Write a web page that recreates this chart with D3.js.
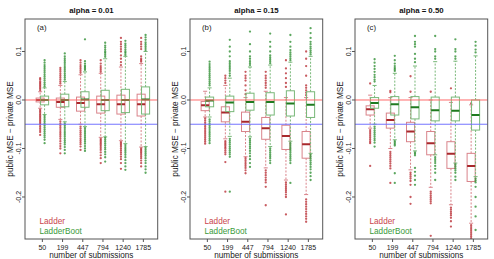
<!DOCTYPE html>
<html>
<head>
<meta charset="utf-8">
<script src="https://cdn.jsdelivr.net/npm/d3@7"></script>
<style>
  body { margin: 0; background: #fff; }
  svg { display: block; font-family: "Liberation Sans", Arial, sans-serif; }
</style>
</head>
<body>
<script>
const sizes = ["50", "199", "447", "794", "1240", "1785"];
const alphas = ["0.01", "0.15", "0.50"];
const tags = ["(a)", "(b)", "(c)"];
const yTicks = [-0.2, -0.1, 0.0, 0.1];

// box stats per number of submissions: [lower whisker, q1, median, q3, upper whisker]
const ladderA = [
  [-0.017, -0.004, 0.000, 0.004, 0.017],
  [-0.040, -0.015, -0.004, 0.004, 0.030],
  [-0.050, -0.023, -0.006, 0.006, 0.052],
  [-0.077, -0.027, -0.009, 0.008, 0.055],
  [-0.084, -0.029, -0.009, 0.010, 0.068],
  [-0.097, -0.033, -0.009, 0.012, 0.075]
];
const bootA = [
  [-0.030, -0.010, 0.000, 0.008, 0.025],
  [-0.045, -0.014, 0.000, 0.012, 0.038],
  [-0.055, -0.015, 0.001, 0.017, 0.058],
  [-0.076, -0.022, 0.000, 0.020, 0.085],
  [-0.090, -0.026, 0.000, 0.022, 0.090],
  [-0.096, -0.029, 0.001, 0.027, 0.100]
];
const ladderAOut = [
  [0.02, 0.023, 0.026, 0.029, 0.032, 0.035, 0.038, 0.042, 0.045, -0.02, -0.023, -0.026, -0.029, -0.032, -0.035, -0.038, -0.041, -0.044, -0.047, -0.05, -0.054, -0.058, -0.062, -0.066, -0.072],
  [0.034, 0.038, 0.042, 0.046, 0.05, 0.054, 0.058, 0.062, 0.066, -0.044, -0.048, -0.052, -0.056, -0.06, -0.064, -0.068, -0.072, -0.076, -0.08, -0.085, -0.09, -0.095, -0.1, -0.11],
  [0.056, 0.06, 0.064, 0.068, 0.072, 0.077, 0.082, -0.055, -0.059, -0.063, -0.067, -0.071, -0.075, -0.079, -0.083, -0.087, -0.091, -0.096, -0.103],
  [0.058, 0.062, 0.066, 0.07, 0.075, 0.082, -0.08, -0.083, -0.086, -0.089, -0.092, -0.095, -0.099, -0.103, -0.108, -0.114, -0.12, -0.13],
  [0.072, 0.078, 0.085, 0.092, 0.1, 0.105, 0.11, 0.115, 0.12, 0.128, -0.087, -0.09, -0.093, -0.096, -0.1, -0.104, -0.108, -0.112, -0.117, -0.122, -0.13, -0.142],
  [0.079, 0.082, 0.085, 0.09, 0.105, 0.11, 0.115, 0.12, 0.128, -0.1, -0.103, -0.106, -0.109, -0.112, -0.116, -0.12, -0.125, -0.13, -0.137]
];
const bootAOut = [
  [0.028, 0.032, 0.036, 0.04, 0.044, 0.048, 0.052, 0.056, 0.06, 0.064, 0.068, 0.072, 0.077, 0.082, -0.033, -0.037, -0.041, -0.045, -0.049, -0.053, -0.057, -0.061, -0.065, -0.069, -0.073, -0.077, -0.082, -0.089],
  [0.042, 0.046, 0.05, 0.054, 0.058, 0.062, 0.066, 0.07, 0.074, 0.078, 0.082, 0.086, 0.09, 0.096, -0.048, -0.052, -0.056, -0.06, -0.064, -0.068, -0.072, -0.076, -0.08, -0.084, -0.088, -0.092, -0.097, -0.103, -0.11],
  [0.062, 0.065, 0.068, 0.071, 0.075, 0.08, 0.125, -0.058, -0.062, -0.066, -0.07, -0.074, -0.078, -0.082, -0.086, -0.09, -0.095, -0.1, -0.105],
  [0.089, 0.093, 0.097, 0.1, 0.104, 0.108, 0.112, 0.118, -0.078, -0.082, -0.086, -0.09, -0.094, -0.098, -0.102, -0.107, -0.112, -0.118, -0.127],
  [0.093, 0.097, 0.1, 0.104, 0.108, 0.112, 0.116, 0.122, -0.093, -0.097, -0.101, -0.105, -0.109, -0.113, -0.118, -0.124, -0.13, -0.137, -0.144],
  [0.103, 0.107, 0.111, 0.115, 0.119, 0.124, 0.129, 0.134, -0.099, -0.103, -0.107, -0.111, -0.115, -0.12, -0.125, -0.13, -0.137, -0.143, -0.15]
];

const ladderB = [
  [-0.035, -0.022, -0.011, -0.003, 0.018],
  [-0.080, -0.045, -0.026, -0.014, 0.030],
  [-0.117, -0.065, -0.045, -0.025, 0.005],
  [-0.140, -0.081, -0.058, -0.036, 0.018],
  [-0.165, -0.102, -0.074, -0.052, 0.005],
  [-0.195, -0.120, -0.091, -0.065, 0.005]
];
const bootB = [
  [-0.035, -0.014, -0.001, 0.006, 0.025],
  [-0.075, -0.024, -0.005, 0.008, 0.045],
  [-0.076, -0.021, -0.004, 0.014, 0.068],
  [-0.096, -0.031, -0.004, 0.015, 0.072],
  [-0.085, -0.033, -0.007, 0.019, 0.078],
  [-0.110, -0.036, -0.010, 0.017, 0.090]
];
const ladderBOut = [
  [-0.038, -0.042, -0.046, -0.05, -0.054, -0.058, -0.062, -0.066, -0.07, -0.074, -0.078, -0.082, -0.086, -0.09],
  [0.035, 0.04, 0.045, 0.05, -0.085, -0.088, -0.091, -0.094, -0.097, -0.1, -0.104, -0.108, -0.112, -0.128, -0.189],
  [0.012, 0.02, 0.03, 0.04, 0.045, 0.05, 0.058, -0.12, -0.124, -0.128, -0.132, -0.136, -0.14, -0.145, -0.151],
  [0.025, 0.03, 0.035, 0.04, 0.045, 0.05, 0.058, -0.145, -0.15, -0.155, -0.16, -0.165, -0.17, -0.179, -0.217],
  [0.027, 0.035, 0.045, 0.055, 0.065, 0.082, -0.17, -0.174, -0.178, -0.182, -0.186, -0.19, -0.195, -0.2, -0.236],
  [0.01, 0.015, 0.02, 0.025, 0.03, 0.05, 0.07, 0.085, 0.1, -0.205, -0.21, -0.215, -0.22, -0.225, -0.23, -0.235, -0.24, -0.245, -0.251]
];
const bootBOut = [
  [0.03, 0.034, 0.038, 0.042, 0.046, 0.05, 0.054, 0.058, 0.062, 0.066, 0.07, 0.074, 0.079, -0.04, -0.044, -0.048, -0.052, -0.056, -0.06, -0.064, -0.068, -0.072, -0.076, -0.08, -0.084, -0.089],
  [0.05, 0.055, 0.06, 0.064, 0.068, 0.072, 0.076, 0.08, 0.09, 0.1, 0.11, 0.124, -0.08, -0.084, -0.088, -0.092, -0.096, -0.1, -0.104, -0.108, -0.112, -0.117, -0.189],
  [0.072, 0.076, 0.08, 0.085, 0.09, 0.1, 0.115, 0.141, -0.08, -0.084, -0.088, -0.092, -0.096, -0.1, -0.105, -0.11, -0.116, -0.122, -0.13, -0.138],
  [0.076, 0.08, 0.084, 0.088, 0.092, 0.1, 0.11, 0.12, 0.137, -0.1, -0.104, -0.108, -0.112, -0.116, -0.12, -0.125, -0.13],
  [0.082, 0.086, 0.09, 0.094, 0.098, 0.103, 0.11, 0.12, 0.134, -0.089, -0.093, -0.097, -0.101, -0.105, -0.109, -0.113, -0.117, -0.121, -0.125, -0.13, -0.171],
  [0.094, 0.098, 0.102, 0.106, 0.11, 0.115, 0.12, 0.128, 0.138, 0.148, -0.113, -0.117, -0.121, -0.125, -0.129, -0.133, -0.138, -0.143, -0.15, -0.157, -0.165]
];

const ladderC = [
  [-0.058, -0.031, -0.019, -0.012, 0.010],
  [-0.100, -0.058, -0.041, -0.027, 0.005],
  [-0.144, -0.086, -0.065, -0.046, 0.005],
  [-0.180, -0.113, -0.089, -0.065, 0.000],
  [-0.216, -0.141, -0.111, -0.086, -0.005],
  [-0.254, -0.168, -0.136, -0.110, -0.010]
];
const bootC = [
  [-0.050, -0.017, -0.006, 0.005, 0.030],
  [-0.082, -0.031, -0.009, 0.007, 0.055],
  [-0.105, -0.039, -0.015, 0.007, 0.070],
  [-0.113, -0.043, -0.021, 0.006, 0.079],
  [-0.130, -0.043, -0.022, 0.006, 0.080],
  [-0.158, -0.062, -0.031, 0.000, 0.091]
];
const ladderCOut = [
  [0.034, -0.062, -0.066, -0.07, -0.074, -0.078, -0.082, -0.086, -0.089, -0.136],
  [0.016, 0.019, -0.107, -0.111, -0.115, -0.119, -0.123, -0.127, -0.131, -0.136, -0.141, -0.171],
  [0.017, 0.049, -0.15, -0.154, -0.158, -0.162, -0.167, -0.175, -0.2, -0.214],
  [0.017, -0.189, -0.193, -0.197, -0.201, -0.205, -0.209, -0.213, -0.28],
  [0.024, -0.222, -0.226, -0.23, -0.234, -0.238, -0.243, -0.25, -0.261],
  [-0.007, -0.258, -0.262, -0.266, -0.27, -0.274, -0.278, -0.282, -0.286]
];
const bootCOut = [
  [0.038, 0.042, 0.047, 0.052, 0.058, 0.064, 0.07, 0.077, 0.084, -0.055, -0.059, -0.063, -0.067, -0.071, -0.075, -0.079, -0.083, -0.088, -0.096],
  [0.06, 0.063, 0.066, 0.07, 0.075, 0.082, 0.091, -0.085, -0.088, -0.091, -0.094, -0.151, -0.171],
  [0.078, 0.085, 0.095, 0.11, 0.115, 0.12, 0.132, -0.108, -0.111, -0.114, -0.14, -0.148, -0.156, -0.165, -0.175],
  [0.085, 0.09, 0.1, 0.105, 0.132, -0.118, -0.122, -0.126, -0.13, -0.136, -0.142, -0.15, -0.165],
  [0.085, 0.09, 0.1, 0.105, 0.125, -0.133, -0.137, -0.141, -0.145, -0.15, -0.158, -0.165],
  [0.098, 0.104, 0.112, 0.12, -0.162, -0.166, -0.17, -0.179, -0.2, -0.22, -0.24, -0.268]
];

const refLines = [{ v: 0, color: "#ff6a6a" }, { v: -0.05, color: "#7474ff" }];

const panels = [
  { ladder: ladderA, boot: bootA, ladderOut: ladderAOut, bootOut: bootAOut },
  { ladder: ladderB, boot: bootB, ladderOut: ladderBOut, bootOut: bootBOut },
  { ladder: ladderC, boot: bootC, ladderOut: ladderCOut, bootOut: bootCOut }
];

const series = [
  { key: "ladder", out: "ladderOut", shift: -0.11, box: "#d9838a", med: "#a8282c", pt: "#b5262c", name: "Ladder", text: "#c9454b" },
  { key: "boot", out: "bootOut", shift: 0.11, box: "#79b879", med: "#1f7a1f", pt: "#25892a", name: "LadderBoot", text: "#3a9a3a" }
];

const W = 494, H = 259;
const plotW = 132.7, plotH = 220, topY = 19;
const svg = d3.select("body").append("svg").attr("width", W).attr("height", H);

const x = d3.scaleLinear().domain([0.14, 6.71]).range([0, plotW]);
const y = d3.scaleLinear().domain([-0.2866, 0.167]).range([plotH, 0]);
const halfW = 0.2;

panels.forEach((p, pi) => {
  const left = 25 + pi * 165;
  const g = svg.append("g").attr("transform", `translate(${left},${topY})`);

  g.append("clipPath").attr("id", "clip" + pi)
    .append("rect").attr("width", plotW).attr("height", plotH);
  const inner = g.append("g").attr("clip-path", `url(#clip${pi})`);

  series.forEach(s => {
    const grp = inner.append("g");
    p[s.key].forEach((st, i) => {
      const c = i + 1 + s.shift;
      const [lo, q1, med, q3, hi] = st;
      // whiskers
      grp.append("line").attr("x1", x(c)).attr("x2", x(c)).attr("y1", y(q3)).attr("y2", y(hi))
        .attr("stroke", s.box).attr("stroke-width", 1).attr("stroke-dasharray", "2,1.5");
      grp.append("line").attr("x1", x(c)).attr("x2", x(c)).attr("y1", y(q1)).attr("y2", y(lo))
        .attr("stroke", s.box).attr("stroke-width", 1).attr("stroke-dasharray", "2,1.5");
      [lo, hi].forEach(v => {
        grp.append("line").attr("x1", x(c - halfW / 2)).attr("x2", x(c + halfW / 2))
          .attr("y1", y(v)).attr("y2", y(v)).attr("stroke", s.box).attr("stroke-width", 1);
      });
      grp.append("rect").attr("x", x(c - halfW)).attr("width", x(c + halfW) - x(c - halfW))
        .attr("y", y(q3)).attr("height", y(q1) - y(q3))
        .attr("fill", "none").attr("stroke", s.box).attr("stroke-width", 1);
      grp.append("line").attr("x1", x(c - halfW)).attr("x2", x(c + halfW))
        .attr("y1", y(med)).attr("y2", y(med)).attr("stroke", s.med).attr("stroke-width", 2);
      // outliers
      grp.selectAll(null).data(p[s.out][i]).join("circle")
        .attr("cx", x(c)).attr("cy", d => y(d)).attr("r", 1.15)
        .attr("fill", s.pt).attr("fill-opacity", 0.75);
    });
  });

  refLines.forEach(r => {
    inner.append("line").attr("x1", 0).attr("x2", plotW).attr("y1", y(r.v)).attr("y2", y(r.v))
      .attr("stroke", r.color).attr("stroke-width", 1);
  });

  // frame
  g.append("rect").attr("width", plotW).attr("height", plotH)
    .attr("fill", "none").attr("stroke", "#555").attr("stroke-width", 1);

  // y axis
  yTicks.forEach(t => {
    g.append("line").attr("x1", -3).attr("x2", 0).attr("y1", y(t)).attr("y2", y(t))
      .attr("stroke", "#555");
    g.append("text").attr("transform", `translate(-4,${y(t)}) rotate(-90)`)
      .attr("text-anchor", "middle").attr("font-size", 7).attr("fill", "#222")
      .text(t.toFixed(1));
  });
  g.append("text").attr("transform", `translate(-12,${plotH / 2}) rotate(-90)`)
    .attr("text-anchor", "middle").attr("font-size", 8.2).attr("fill", "#222")
    .text("public MSE \u2212 private MSE");

  // x axis
  sizes.forEach((s, i) => {
    g.append("line").attr("x1", x(i + 1)).attr("x2", x(i + 1)).attr("y1", plotH).attr("y2", plotH + 3)
      .attr("stroke", "#555");
    g.append("text").attr("x", x(i + 1)).attr("y", plotH + 10.5)
      .attr("text-anchor", "middle").attr("font-size", 7).attr("fill", "#222").text(s);
  });
  g.append("text").attr("x", plotW / 2).attr("y", plotH + 18.5)
    .attr("text-anchor", "middle").attr("font-size", 8.2).attr("fill", "#222")
    .text("number of submissions");

  // title and tag
  g.append("text").attr("x", plotW / 2).attr("y", -6)
    .attr("text-anchor", "middle").attr("font-size", 7.8).attr("font-weight", "bold").attr("fill", "#111")
    .text("alpha = " + alphas[pi]);
  g.append("text").attr("x", 12).attr("y", 10.5)
    .attr("font-size", 7.8).attr("fill", "#222").text(tags[pi]);

  // legend
  series.forEach((s, k) => {
    g.append("text").attr("x", 14.5).attr("y", 204.5 + k * 10)
      .attr("font-size", 8.2).attr("fill", s.text).text(s.name);
  });
});
</script>
</body>
</html>
